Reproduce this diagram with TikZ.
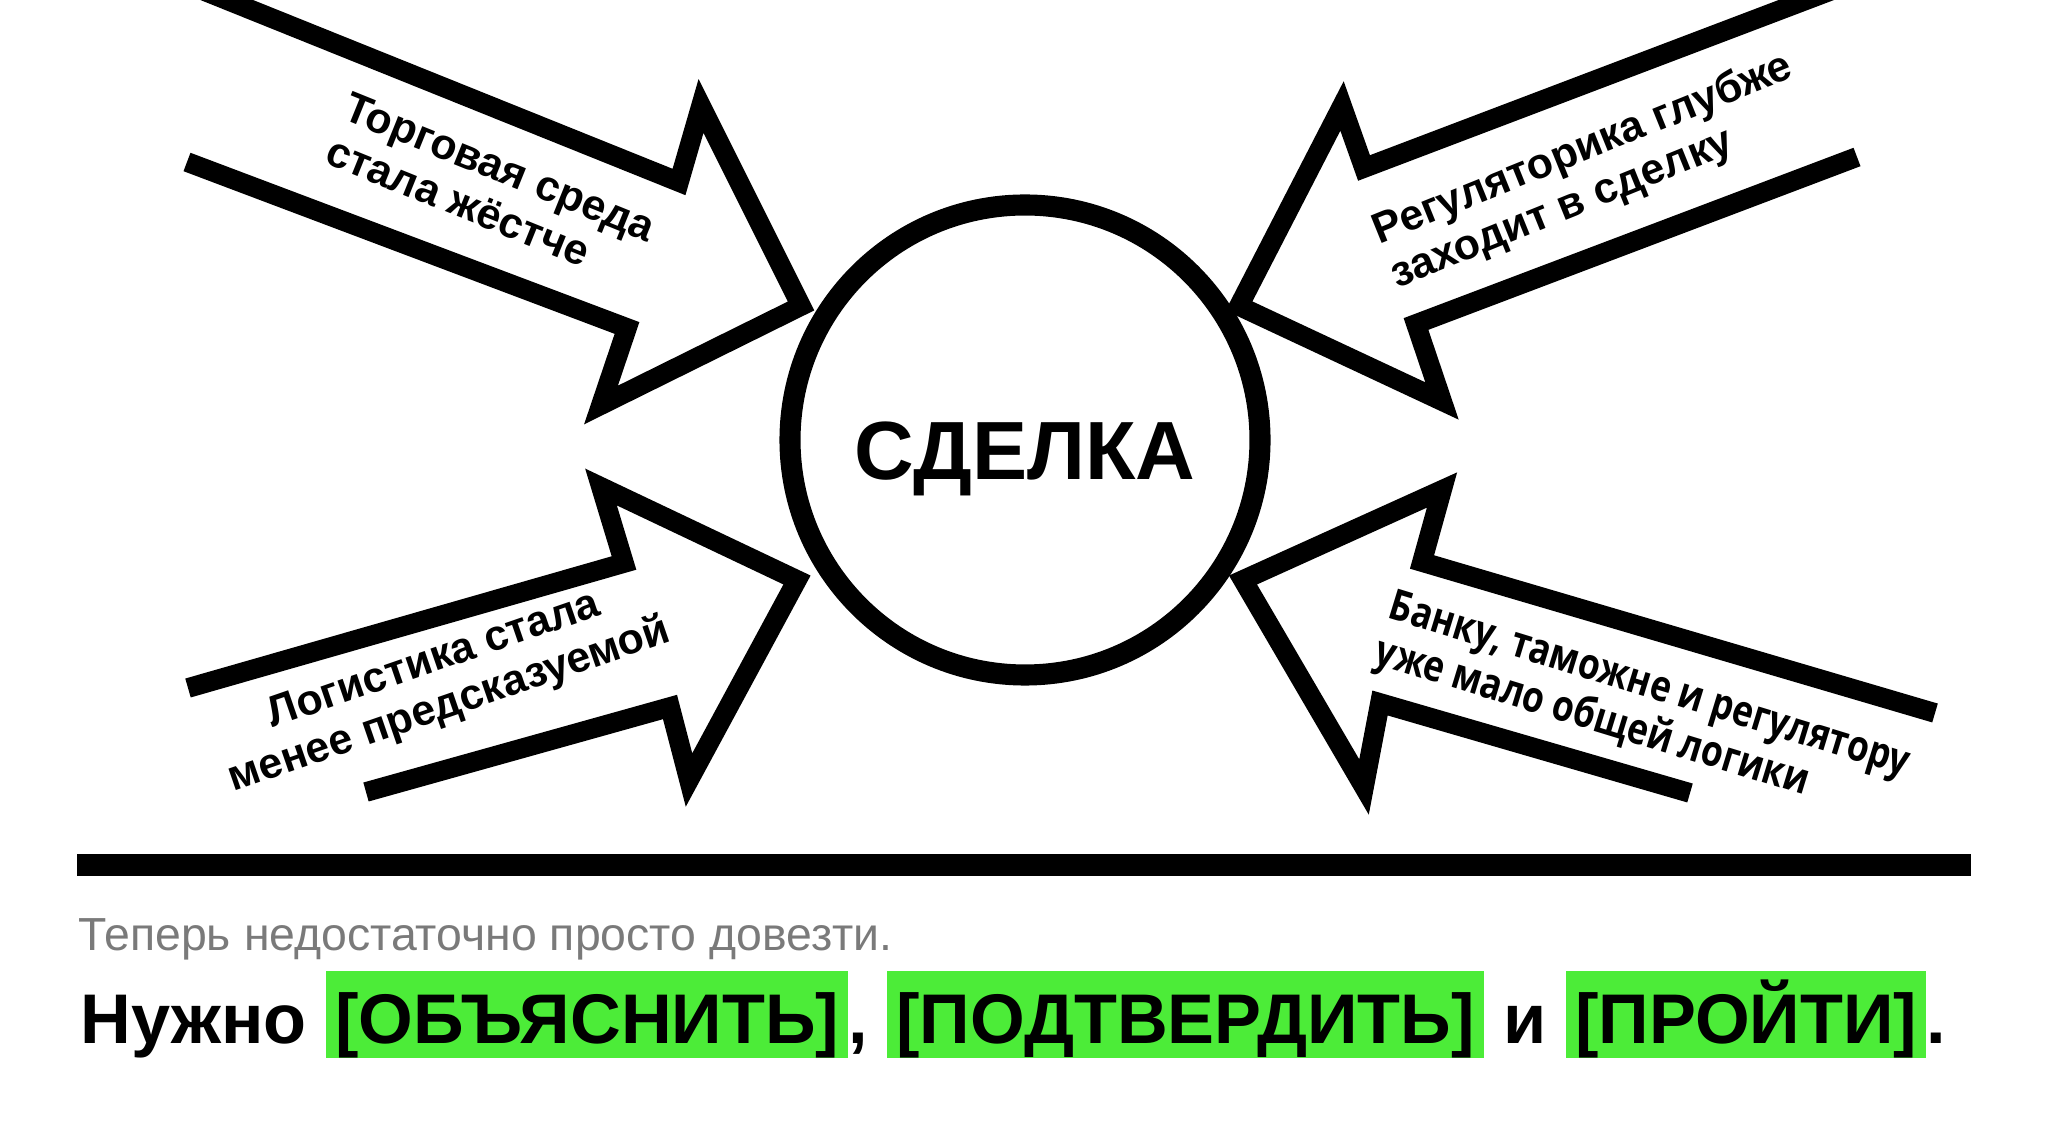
\documentclass[tikz,border=0pt]{standalone}
\usepackage{fontspec}
\setmainfont{Liberation Sans}
\newfontfamily\condfont[FakeStretch=0.82]{Open Sans}
\definecolor{hlgreen}{RGB}{76,236,56}
\definecolor{subgray}{RGB}{122,122,122}
\tikzstyle{outline} = [line width=5.6pt, line join=miter, miter limit=20]
\tikzstyle{lbl} = [font=\bfseries\fontsize{12.2}{13.6}\selectfont, align=left, inner sep=0pt]
\newcommand{\hlword}[1]{{\setlength{\fboxsep}{0pt}\colorbox{hlgreen}{\rule[-3.4pt]{0pt}{23.9pt}\hspace{2.6pt}#1\hspace{2.6pt}}}}

\begin{document}
\begin{tikzpicture}[
    x=0.1mm, y=-0.1mm,
    deal/.style={circle, draw, line width=6pt, minimum size=47mm, inner sep=0pt},
    title/.style={font=\bfseries\fontsize{23.5}{26}\selectfont, inner sep=0pt}
]
    \useasboundingbox (0,0) rectangle (2048,1143);
    \clip (0,0) rectangle (2048,1143);

    \node[deal] (deal) at (1025,440) {};
    \node[title, anchor=base] (dealname) at (1025,480) {СДЕЛКА};

    \draw[outline] (177,-20) -- (679,182) -- (701,106) -- (801,306) -- (601,405) -- (627,328) -- (187,162);
    \draw[outline] (1859,-20) -- (1364,168) -- (1342,106) -- (1239,306) -- (1442,401) -- (1416,324) -- (1857,157);
    \draw[outline] (188,688) -- (624,563) -- (601,487) -- (797,580) -- (689,780) -- (670,707) -- (366,792);
    \draw[outline] (1935,713) -- (1422,562) -- (1442,490) -- (1243,580) -- (1364,787) -- (1380,703) -- (1690,793);

    \node[lbl, rotate=-22] (trade) at (491,189) {Торговая среда\\стала жёстче};
    \node[lbl, rotate=22] (rules) at (1592,172) {Регуляторика глубже\\заходит в сделку};
    \node[lbl, rotate=19, align=center] (logistics) at (442,684) {Логистика стала\\менее предсказуемой};
    \node[lbl, rotate=-17, font=\condfont\bfseries\fontsize{12.2}{13.6}\selectfont] (bank) at (1642,710)
        {Банку, таможне и регулятору\\уже мало общей логики};

    \draw[line width=6.5pt] (77,865) -- (1971,865);

    \node[anchor=base west, inner sep=0pt, text=subgray, font=\fontsize{13.2}{15}\selectfont] (note) at (78,950)
        {Теперь недостаточно просто довезти.};
    \node[anchor=base west, inner sep=0pt, font=\bfseries\fontsize{20}{24}\selectfont] (need) at (80,1043)
        {Нужно \hlword{[ОБЪЯСНИТЬ]}, \hlword{[ПОДТВЕРДИТЬ]} и \hlword{[ПРОЙТИ]}.};
\end{tikzpicture}
\end{document}
